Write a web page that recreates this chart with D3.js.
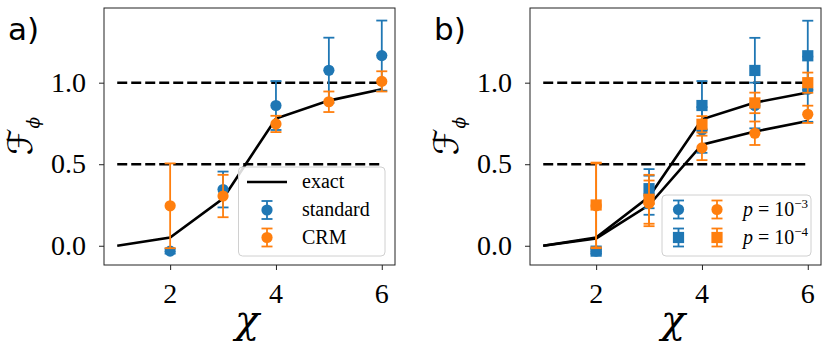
<!DOCTYPE html>
<html lang="en">
<head>
<meta charset="UTF-8">
<title>Fidelity vs chi</title>
<script src="https://d3js.org/d3.v7.min.js"></script>
<style>
  body { margin: 0; background: #fff; }
  .leg text { font-family: "Liberation Serif", serif; font-size: 20px; }
  .tl { font-family: "Liberation Serif", serif; font-size: 28px; }
</style>
</head>
<body>
<svg width="831" height="359"></svg>
<script>
// x values
var chi = [2, 3, 4, 5, 6];
var exactChi = [1, 2, 3, 4, 5, 6];

// panel a
var exactA = [0, 0.05, 0.29, 0.78, 0.89, 0.96];
var stdA = [-0.033, 0.345, 0.86, 1.076, 1.166];
var stdErrA = [0.015, 0.11, 0.15, 0.2, 0.215];
var crmA = [0.245, 0.305, 0.747, 0.883, 1.008];
var crmErrA = [0.26, 0.13, 0.05, 0.063, 0.062];

// panel b (p = 1e-3 circles, p = 1e-4 squares)
var exactB3 = [0, 0.045, 0.25, 0.62, 0.70, 0.765];
var exactB4 = [0, 0.05, 0.30, 0.775, 0.878, 0.94];
var stdB3 = [-0.033, 0.31, 0.71, 0.86, 0.96];
var stdErrB3 = [0.015, 0.12, 0.14, 0.14, 0.2];
var stdB4 = [-0.033, 0.35, 0.86, 1.075, 1.165];
var stdErrB4 = [0.015, 0.12, 0.15, 0.2, 0.215];
var crmB3 = [0.245, 0.26, 0.60, 0.69, 0.806];
var crmErrB3 = [0.26, 0.14, 0.075, 0.072, 0.053];
var crmB4 = [0.25, 0.285, 0.745, 0.876, 1.0];
var crmErrB4 = [0.26, 0.15, 0.05, 0.063, 0.062];

var xTicks = [2, 4, 6];
var yTicks = [0, 0.5, 1.0];
var refLines = [0.5, 1.0];

var blue = "#1f77b4", orange = "#ff7f0e";
var svg = d3.select("svg");

function panel(left, label) {
    var x = d3.scaleLinear().domain([0.75, 6.25]).range([left, left + 291]);
    var y = d3.scaleLinear().domain([-0.118, 1.458]).range([265, 8]);
    var g = svg.append("g");

    // tick marks from the axes, labels drawn as own text
    g.append("g")
        .attr("transform", "translate(0,265)")
        .call(d3.axisBottom(x).tickValues(xTicks).tickSize(5).tickFormat(""))
        .call(function(s) { s.select(".domain").remove(); });
    g.append("g")
        .attr("transform", "translate(" + left + ",0)")
        .call(d3.axisLeft(y).tickValues(yTicks).tickSize(5).tickFormat(""))
        .call(function(s) { s.select(".domain").remove(); });
    g.selectAll(".tick line").attr("stroke", "#222").attr("stroke-width", 1);

    g.selectAll(".xl").data(xTicks).enter().append("text").attr("class", "tl")
        .attr("x", function(d) { return x(d); }).attr("y", 303)
        .attr("text-anchor", "middle").text(d3.format("d"));
    g.selectAll(".yl").data(yTicks).enter().append("text").attr("class", "tl")
        .attr("x", left - 18).attr("y", function(d) { return y(d); }).attr("dy", "0.33em")
        .attr("text-anchor", "end").text(d3.format(".1f"));

    g.append("rect").attr("x", left).attr("y", 8).attr("width", 291).attr("height", 257)
        .attr("fill", "none").attr("stroke", "#222").attr("stroke-width", 1);

    // dashed reference lines
    g.selectAll(".ref").data(refLines).enter().append("line")
        .attr("x1", x(1)).attr("x2", x(6))
        .attr("y1", function(d) { return y(d); }).attr("y2", function(d) { return y(d); })
        .attr("stroke", "#000").attr("stroke-width", 2.6).attr("stroke-dasharray", "10,4");

    // panel letter
    svg.append("text").attr("x", left - 96).attr("y", 40)
        .attr("font-family", "DejaVu Sans").attr("font-size", 31).text(label);

    // axis labels
    svg.append("text").attr("x", left + 143).attr("y", 333)
        .attr("text-anchor", "middle").attr("font-family", "DejaVu Serif")
        .attr("font-style", "italic").attr("font-size", 40).text("χ");
    var yl = svg.append("text")
        .attr("transform", "translate(" + (left - 72) + ",136) rotate(-90)")
        .attr("text-anchor", "middle").attr("font-family", "DejaVu Sans").attr("font-size", 34);
    yl.append("tspan").text("ℱ");
    yl.append("tspan").attr("dy", 7).attr("font-size", 17).attr("font-style", "italic")
        .attr("font-family", "DejaVu Serif").text("ϕ");

    return {g: g, x: x, y: y};
}

function exactLine(p, vals) {
    var line = d3.line().x(function(d, i) { return p.x(exactChi[i]); }).y(function(d) { return p.y(d); });
    p.g.append("path").datum(vals).attr("d", line)
        .attr("fill", "none").attr("stroke", "#000").attr("stroke-width", 2.6);
}

function errorSeries(p, vals, errs, color, shape) {
    var s = p.g.append("g");
    var pts = vals.map(function(v, i) { return {x: chi[i], v: v, e: errs[i]}; });
    var e = s.selectAll(".eb").data(pts).enter().append("g").attr("stroke", color).attr("stroke-width", 1.8);
    e.append("line")
        .attr("x1", function(d) { return p.x(d.x); }).attr("x2", function(d) { return p.x(d.x); })
        .attr("y1", function(d) { return p.y(d.v - d.e); }).attr("y2", function(d) { return p.y(d.v + d.e); });
    [-1, 1].forEach(function(sg) {
        e.append("line")
            .attr("x1", function(d) { return p.x(d.x) - 5.5; }).attr("x2", function(d) { return p.x(d.x) + 5.5; })
            .attr("y1", function(d) { return p.y(d.v + sg * d.e); }).attr("y2", function(d) { return p.y(d.v + sg * d.e); });
    });
    if (shape === "circle") {
        s.selectAll(".m").data(pts).enter().append("circle")
            .attr("cx", function(d) { return p.x(d.x); }).attr("cy", function(d) { return p.y(d.v); })
            .attr("r", 5.6).attr("fill", color);
    } else {
        s.selectAll(".m").data(pts).enter().append("rect")
            .attr("x", function(d) { return p.x(d.x) - 5.6; }).attr("y", function(d) { return p.y(d.v) - 5.6; })
            .attr("width", 11.2).attr("height", 11.2).attr("fill", color);
    }
}

function legendMarker(g, cx, cy, color, shape) {
    g.append("line").attr("x1", cx).attr("x2", cx).attr("y1", cy - 9).attr("y2", cy + 9)
        .attr("stroke", color).attr("stroke-width", 1.8);
    [-9, 9].forEach(function(o) {
        g.append("line").attr("x1", cx - 5.5).attr("x2", cx + 5.5).attr("y1", cy + o).attr("y2", cy + o)
            .attr("stroke", color).attr("stroke-width", 1.8);
    });
    if (shape === "circle") g.append("circle").attr("cx", cx).attr("cy", cy).attr("r", 5.6).attr("fill", color);
    else g.append("rect").attr("x", cx - 5.6).attr("y", cy - 5.6).attr("width", 11.2).attr("height", 11.2).attr("fill", color);
}

// ---- panel a ----
var pa = panel(104, "a)");
exactLine(pa, exactA);
errorSeries(pa, stdA, stdErrA, blue, "circle");
errorSeries(pa, crmA, crmErrA, orange, "circle");

var la = svg.append("g").attr("class", "leg");
la.append("rect").attr("x", 238.5).attr("y", 167).attr("width", 146.5).attr("height", 89).attr("rx", 4)
    .attr("fill", "#fff").attr("fill-opacity", 0.85).attr("stroke", "#d0d0d0");
la.append("line").attr("x1", 247).attr("x2", 287).attr("y1", 182).attr("y2", 182)
    .attr("stroke", "#000").attr("stroke-width", 2.6);
legendMarker(la, 267, 210, blue, "circle");
legendMarker(la, 267, 237.5, orange, "circle");
[["exact", 182], ["standard", 210], ["CRM", 237.5]].forEach(function(t) {
    la.append("text").attr("x", 302).attr("y", t[1]).attr("dy", "0.32em").text(t[0]);
});

// ---- panel b ----
var pb = panel(530, "b)");
exactLine(pb, exactB3);
exactLine(pb, exactB4);
errorSeries(pb, stdB3, stdErrB3, blue, "circle");
errorSeries(pb, stdB4, stdErrB4, blue, "square");
errorSeries(pb, crmB3, crmErrB3, orange, "circle");
errorSeries(pb, crmB4, crmErrB4, orange, "square");

var lb = svg.append("g").attr("class", "leg");
lb.append("rect").attr("x", 662).attr("y", 195).attr("width", 149).attr("height", 61).attr("rx", 4)
    .attr("fill", "#fff").attr("fill-opacity", 0.85).attr("stroke", "#d0d0d0");
legendMarker(lb, 678.5, 209.5, blue, "circle");
legendMarker(lb, 678.5, 237.5, blue, "square");
legendMarker(lb, 717, 209.5, orange, "circle");
legendMarker(lb, 717, 237.5, orange, "square");
[["−3", 209.5], ["−4", 237.5]].forEach(function(t) {
    var tx = lb.append("text").attr("x", 743).attr("y", t[1]).attr("dy", "0.32em");
    tx.append("tspan").attr("font-style", "italic").text("p");
    tx.append("tspan").text(" = 10");
    tx.append("tspan").attr("dy", -8).attr("font-size", 13).text(t[0]);
});
</script>
</body>
</html>
